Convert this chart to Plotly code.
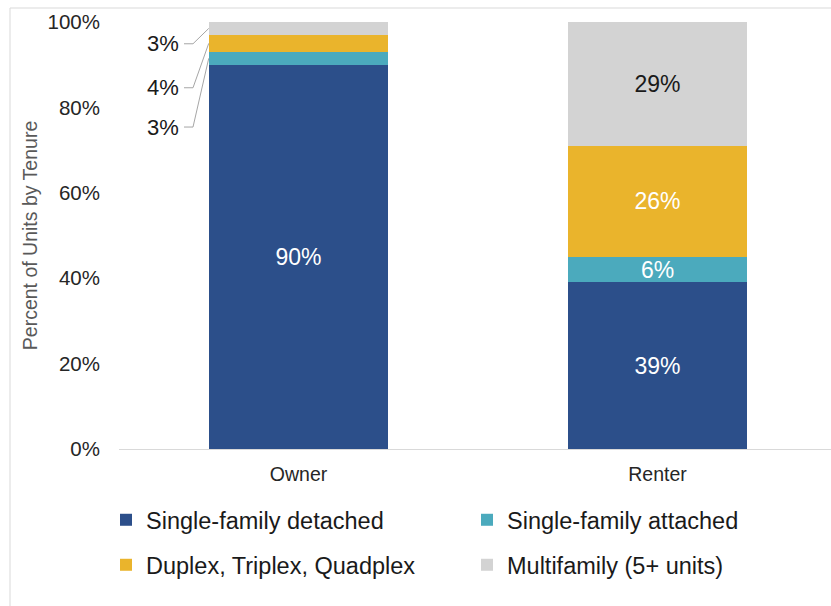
import plotly.graph_objects as go

# Housing units by structure type, share of each tenure (%)
tenures = ["Owner", "Renter"]
series_names = ["Single-family detached", "Single-family attached",
                "Duplex, Triplex, Quadplex", "Multifamily (5+ units)"]
detached = [90, 39]
attached = [3, 6]
duplex = [4, 26]
multifamily = [3, 29]
y_ticks = [0, 20, 40, 60, 80, 100]

colors = ["#2C4F8A", "#4BAABD", "#EAB42C", "#D3D3D3"]
label_colors = ["white", "white", "white", "#1a1a1a"]
legend_ids = ["legend", "legend", "legend2", "legend2"]

W, H = 831, 606
ML, MR, MT, MB = 119, 0, 22, 157
PW, PH = W - ML - MR, H - MT - MB
SLOT = 359.0  # pixel spacing between category centres

FONT = "Liberation Sans"
x_pos = list(range(len(tenures)))
series = [detached, attached, duplex, multifamily]

fig = go.Figure()
for name, vals, col, lc, lg in zip(series_names, series, colors, label_colors, legend_ids):
    # Owner's thin segments get call-out labels instead of inside text
    texts = [f"{v}%" if v >= 5 else "" for v in vals]
    fig.add_trace(go.Bar(
        x=x_pos, y=vals, name=name, width=0.5, legend=lg,
        marker=dict(color=col, line=dict(width=0)),
        text=texts, textposition="inside", insidetextanchor="middle",
        textfont=dict(color=lc, size=23, family=FONT),
        constraintext="none", cliponaxis=False,
        hoverinfo="skip",
    ))

# Call-outs for the small Owner segments (left of the bar, with elbow leader lines)
owner = [s[0] for s in series]
bar_left = -0.25
elbow_x0 = (184 - (ML + SLOT * 0.5)) / SLOT
elbow_x1 = (193 - (ML + SLOT * 0.5)) / SLOT
label_y = {1: 75.4, 2: 84.6, 3: 94.9}  # stacked label slots for attached / duplex / multifamily
cum = 0
for i, v in enumerate(owner):
    mid = cum + v / 2
    cum += v
    if v >= 5:
        continue
    ly = label_y[i]
    fig.add_trace(go.Scatter(
        x=[elbow_x0, elbow_x1, bar_left], y=[ly, ly, mid],
        mode="lines", line=dict(color="#A6A6A6", width=1),
        showlegend=False, hoverinfo="skip", cliponaxis=False,
    ))
    fig.add_annotation(
        x=elbow_x0, y=ly, xref="x", yref="y", text=f"{v}%",
        showarrow=False, xanchor="right", yanchor="middle", xshift=-3,
        font=dict(size=22, color="#1a1a1a", family=FONT),
    )

def px_x(p):
    return (p - ML) / PW

def px_y(p):
    return (H - MB - p) / PH

# light frame around the chart area
fig.add_shape(type="line", xref="paper", yref="paper",
              x0=px_x(10), x1=px_x(W + 5), y0=px_y(8), y1=px_y(8),
              line=dict(color="#D9D9D9", width=1))
fig.add_shape(type="line", xref="paper", yref="paper",
              x0=px_x(10), x1=px_x(10), y0=px_y(8), y1=px_y(H + 5),
              line=dict(color="#D9D9D9", width=1))

legend_common = dict(
    orientation="h", xanchor="left", yanchor="middle",
    entrywidth=316, entrywidthmode="pixels", traceorder="normal",
    font=dict(size=23.5, color="#1a1a1a", family=FONT),
    itemwidth=30, bgcolor="rgba(0,0,0,0)",
)

fig.update_layout(
    width=W, height=H,
    margin=dict(l=ML, r=MR, t=MT, b=MB, pad=0),
    barmode="stack",
    plot_bgcolor="white", paper_bgcolor="white",
    font=dict(family=FONT, color="#262626"),
    showlegend=True,
    legend=dict(x=px_x(106), y=px_y(520), **legend_common),
    legend2=dict(x=px_x(106), y=px_y(565), **legend_common),
    xaxis=dict(
        range=[-0.5, -0.5 + PW / SLOT], tickmode="array", tickvals=x_pos,
        ticktext=tenures, showgrid=False, zeroline=False,
        showline=True, linecolor="#D9D9D9", linewidth=1,
        ticks="", ticklabelstandoff=8,
        tickfont=dict(size=19.5, color="#262626", family=FONT),
        fixedrange=True,
    ),
    yaxis=dict(
        range=[0, 100], tickmode="array", tickvals=y_ticks,
        ticktext=[f"{t}%" for t in y_ticks], showgrid=False, zeroline=False,
        showline=False, ticks="", ticklabelstandoff=18,
        tickfont=dict(size=20.5, color="#262626", family=FONT),
        title=dict(text="Percent of Units by Tenure", standoff=4,
                   font=dict(size=19.5, color="#595959", family=FONT)),
        fixedrange=True,
    ),
)

fig.write_html("out.html")
